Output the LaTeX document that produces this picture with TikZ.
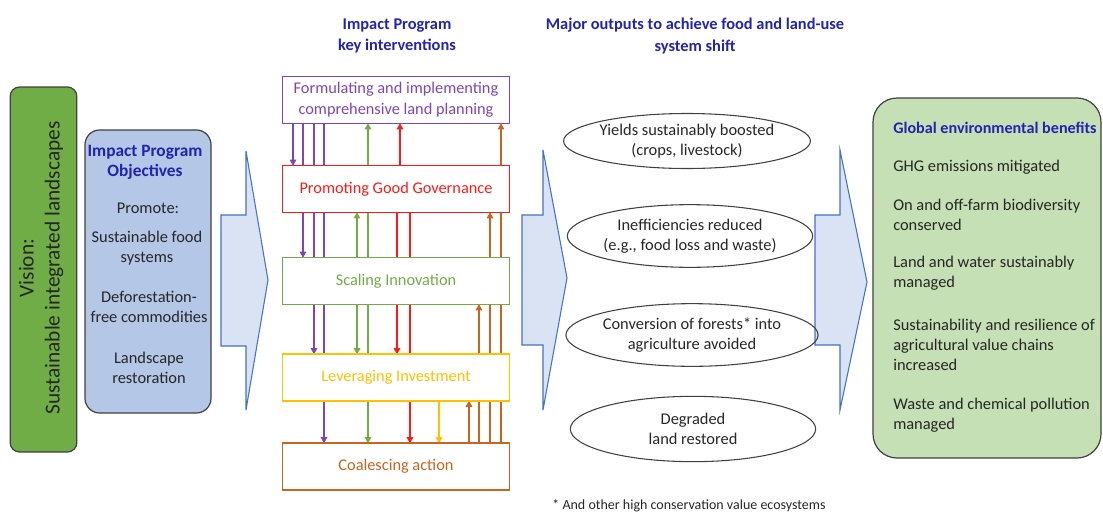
\documentclass[tikz,border=0pt]{standalone}
\usepackage{fontspec}
\setmainfont{Carlito}
\usetikzlibrary{arrows.meta,shapes.geometric,backgrounds}
\definecolor{visgreen}{HTML}{70AD47}
\definecolor{objblue}{HTML}{B4C7E7}
\definecolor{arrfill}{HTML}{DAE3F3}
\definecolor{arrdraw}{HTML}{4472C4}
\definecolor{benfill}{HTML}{C5E0B4}
\definecolor{hdblue}{HTML}{2323B0}
\definecolor{cpurple}{HTML}{7F45B8}
\definecolor{cred}{HTML}{FF1A1A}
\definecolor{cgreen}{HTML}{70AD47}
\definecolor{cyellow}{HTML}{FFC000}
\definecolor{corange}{HTML}{C8641E}
\definecolor{txt}{HTML}{262626}
\definecolor{edge}{HTML}{404040}
\begin{document}
\begin{tikzpicture}[x=0.75pt,y=-0.75pt,
  every node/.style={text=txt},
  body/.style={font=\fontsize{12.3}{15}\selectfont, align=center, inner sep=0pt},
  hd/.style={font=\fontsize{12.3}{16}\selectfont\bfseries, text=hdblue, align=center, inner sep=0pt},
  ibox/.style={draw, line width=1.1pt, fill=white, minimum width=170.25pt, minimum height=35pt,
     outer sep=0pt, inner sep=0pt, align=center, font=\fontsize{12.25}{15.5}\selectfont},
  ell/.style={ellipse, draw=edge, line width=0.8pt, minimum width=184pt, minimum height=47pt,
     inner sep=0pt, outer sep=0pt, align=center, font=\fontsize{12.3}{15}\selectfont},
  conn/.style={line width=0.8pt, -{Triangle[length=4.5pt,width=5pt]}},
  bigarrow/.style={draw=arrdraw, fill=arrfill, line width=0.8pt, line join=miter},
  btext/.style={font=\fontsize{12.3}{15}\selectfont, align=left, anchor=west, inner sep=0pt}
]
\useasboundingbox (0,0) rectangle (1103,514);

% Vision
\node[draw=edge, fill=visgreen, line width=0.9pt, rounded corners=7pt, minimum width=50pt,
  minimum height=273.75pt, inner sep=0pt] (vis) at (43.5,269.5) {};
\node[rotate=90, align=center, font=\fontsize{16}{19.5}\selectfont, inner sep=0pt] (vistxt) at (41,268)
  {Vision:\\Sustainable integrated landscapes};

% Objectives
\node[draw=edge, fill=objblue, line width=0.9pt, rounded corners=11pt, minimum width=94.5pt,
  minimum height=212.25pt, inner sep=0pt] (obj) at (148,271.5) {};
\node[hd, font=\fontsize{13}{15}\selectfont\bfseries] (objt) at (145,162) {Impact Program\\Objectives};
\node[body] (o1) at (148,208) {Promote:};
\node[body] (o2) at (147,248) {Sustainable food\\systems};
\node[body] (o3) at (149,306.5) {Deforestation-\\free commodities};
\node[body] (o4) at (149,368) {Landscape\\restoration};

% Big arrows
\draw[bigarrow] (221,215) -- (246,215) -- (246,151) -- (268,280) -- (246,410) -- (246,346) -- (221,346) -- cycle;
\draw[bigarrow] (522,215) -- (543,215) -- (543,150) -- (567,278) -- (543,410) -- (543,345) -- (522,345) -- cycle;
\draw[bigarrow] (815,215) -- (840,215) -- (840,150) -- (867,282) -- (840,410) -- (840,345) -- (815,345) -- cycle;

% Headers
\node[hd] (h1) at (397,36) {Impact Program\\key interventions};
\node[hd] (h2) at (695,36) {Major outputs to achieve food and land-use\\system shift};

% Intervention boxes
\node[ibox, draw=cpurple, text=cpurple] (form) at (396,100) {Formulating and implementing\\comprehensive land planning};
\node[ibox, draw=cred, text=cred] (gov) at (396,189) {Promoting Good Governance};
\node[ibox, draw=cgreen, text=cgreen] (scal) at (396,281) {Scaling Innovation};
\node[ibox, draw=cyellow, text=cyellow] (lev) at (396,377.5) {Leveraging Investment};
\node[ibox, draw=corange, text=corange] (coal) at (396,466.5) {Coalescing action};

\begin{pgfonlayer}{background}
% purple
\draw[conn, cpurple] (form.south -| 293,0) -- (gov.north -| 293,0);
\draw[conn, cpurple] (form.south -| 303,0) -- (scal.north -| 303,0);
\draw[conn, cpurple] (form.south -| 314,0) -- (lev.north -| 314,0);
\draw[conn, cpurple] (form.south -| 324,0) -- (coal.north -| 324,0);
% green
\draw[conn, cgreen] (scal.north -| 357,0) -- (gov.south -| 357,0);
\draw[conn, cgreen] (scal.north -| 368,0) -- (form.south -| 368,0);
\draw[conn, cgreen] (scal.south -| 357,0) -- (lev.north -| 357,0);
\draw[conn, cgreen] (scal.south -| 368,0) -- (coal.north -| 368,0);
% red
\draw[conn, cred] (gov.north -| 400,0) -- (form.south -| 400,0);
\draw[conn, cred] (gov.south -| 397,0) -- (lev.north -| 397,0);
\draw[conn, cred] (gov.south -| 410,0) -- (coal.north -| 410,0);
% yellow
\draw[conn, cyellow] (lev.south -| 439,0) -- (coal.north -| 439,0);
% orange
\draw[conn, corange] (coal.north -| 469,0) -- (lev.south -| 469,0);
\draw[conn, corange] (coal.north -| 479,0) -- (scal.south -| 479,0);
\draw[conn, corange] (coal.north -| 490,0) -- (gov.south -| 490,0);
\draw[conn, corange] (coal.north -| 501,0) -- (form.south -| 501,0);
\end{pgfonlayer}

% Outputs
\node[ell, minimum height=41.25pt] (e1) at (687,141) {Yields sustainably boosted\\(crops, livestock)};
\node[ell] (e2) at (690,236) {Inefficiencies reduced\\(e.g., food loss and waste)};
\node[ell] (e3) at (692,335) {Conversion of forests* into\\agriculture avoided};
\node[ell, minimum height=49pt] (e4) at (693,429) {Degraded\\land restored};

% Benefits
\node[draw=edge, fill=benfill, line width=0.9pt, rounded corners=18pt, minimum width=171pt,
  minimum height=270pt, inner sep=0pt] (ben) at (987,278) {};
\node[btext, font=\fontsize{12.1}{15}\selectfont\bfseries, text=hdblue] (b0) at (893,128) {Global environmental benefits};
\node[btext] (b1) at (893,167) {GHG emissions mitigated};
\node[btext] (b2) at (893,215) {On and off-farm biodiversity\\conserved};
\node[btext] (b3) at (893,273) {Land and water sustainably\\managed};
\node[btext] (b4) at (893,345) {Sustainability and resilience of\\agricultural value chains\\increased};
\node[btext] (b5) at (893,415) {Waste and chemical pollution\\managed};

% Footnote
\node[font=\fontsize{10.5}{12}\selectfont, inner sep=0pt] (fn) at (689,506) {* And other high conservation value ecosystems};
\end{tikzpicture}
\end{document}
